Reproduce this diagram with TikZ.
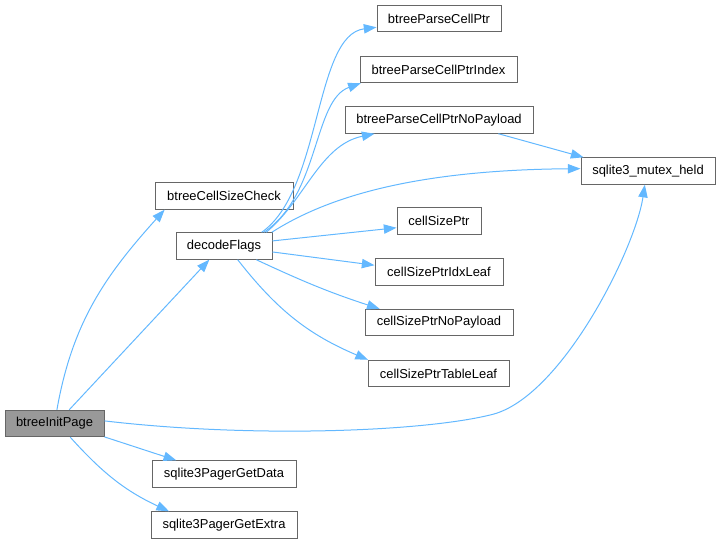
\documentclass[tikz,border=0pt]{standalone}
\usepackage{fontspec}
\setmainfont{Liberation Sans}
\usepackage{tikz}
\usetikzlibrary{arrows.meta}
\definecolor{edgeblue}{HTML}{63B8FF}
\definecolor{boxgray}{HTML}{666666}
\definecolor{rootgray}{HTML}{999999}

\begin{document}
\begin{tikzpicture}
  [x=0.75pt,y=0.75pt,
   every node/.style={draw=boxgray,fill=white,line width=0.75pt,inner sep=0pt,
     minimum height=19.8pt,font=\fontsize{9.7}{11}\selectfont},
   fn/.style={minimum width=#1*0.75pt},
   root/.style={fill=rootgray},
   call/.style={draw=edgeblue,line width=0.75pt,-{Triangle[length=9.5pt,width=7pt]}}]
  \useasboundingbox (0,0) rectangle (720,-544);

  \node[fn=99,root] (init)    at (54.5,-423.5) {btreeInitPage};
  \node[fn=138] (check)       at (224,-196)    {btreeCellSizeCheck};
  \node[fn=96]  (decode)      at (224,-246)    {decodeFlags};
  \node[fn=124] (parse)       at (439,-18.5)   {btreeParseCellPtr};
  \node[fn=157] (parseidx)    at (438.5,-69.5) {btreeParseCellPtrIndex};
  \node[fn=188] (parsenop)    at (439,-120)    {btreeParseCellPtrNoPayload};
  \node[fn=134] (mutex)       at (648,-171)    {sqlite3\_mutex\_held};
  \node[fn=84]  (csp)         at (439,-221)    {cellSizePtr};
  \node[fn=128] (cspidx)      at (439,-272)    {cellSizePtrIdxLeaf};
  \node[fn=148] (cspnop)      at (439,-322.5)  {cellSizePtrNoPayload};
  \node[fn=141] (csptab)      at (438.5,-373.5) {cellSizePtrTableLeaf};
  \node[fn=144] (getdata)     at (224,-474)    {sqlite3PagerGetData};
  \node[fn=146] (getextra)    at (224,-525)    {sqlite3PagerGetExtra};

  % straight calls
  \foreach \from/\to in {init.43/decode.223, init.-15/getdata.164,
      parsenop.-13/mutex.168, decode.6/csp.189, decode.-7/cspidx.174}
    \draw[call] (\from) -- (\to);

  % bent calls
  \foreach \from/\to/\o/\i in {init.80/check.193/80/228,
      init.-41/getextra.166/-48/155, decode.-23/cspnop.167/-25/162,
      decode.-45/csptab.169/-52/157}
    \draw[call] (\from) to[out=\o,in=\i] (\to);

  \draw[call] (decode.20) .. controls (322,-190) and (314,-35) .. (parse.188);
  \draw[call] (decode.19) .. controls (320,-195) and (313,-100) .. (parseidx.190);
  \draw[call] (decode.18) .. controls (305,-200) and (320,-145) .. (parsenop.192);
  \draw[call] (decode.16) .. controls (330,-195) and (420,-170) .. (mutex.178);
  \draw[call] (init.3) .. controls (250,-438) and (420,-432) .. (490,-415)
    .. controls (560,-400) and (635,-250) .. (mutex.257);

\end{tikzpicture}
\end{document}
